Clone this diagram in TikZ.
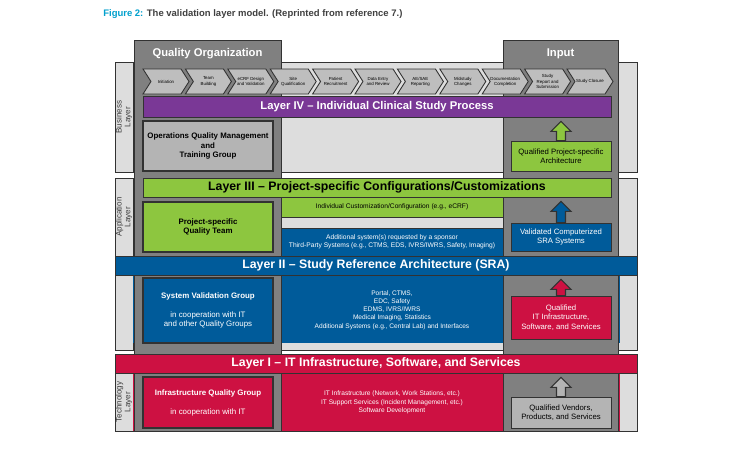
\documentclass[tikz,border=0pt]{standalone}
\usepackage{fontspec}
\setmainfont{Liberation Sans}
\usepackage{xcolor}
\usetikzlibrary{shapes.symbols,calc}

\definecolor{bandgray}{RGB}{221,221,221}
\definecolor{colgray}{RGB}{128,128,128}
\definecolor{boxgray}{RGB}{180,180,180}
\definecolor{chevgray}{RGB}{190,190,190}
\definecolor{edge}{RGB}{50,50,50}
\definecolor{lpurple}{RGB}{122,56,150}
\definecolor{lgreen}{RGB}{141,198,63}
\definecolor{lblue}{RGB}{0,91,154}
\definecolor{lred}{RGB}{205,17,66}
\definecolor{figcyan}{RGB}{0,160,205}
\definecolor{titlegray}{RGB}{64,64,64}

\tikzset{
  wh/.style 2 args={minimum width=#1*0.02cm, minimum height=#2*0.02cm},
  layerbar/.style={draw=edge, line width=0.4pt, inner sep=0pt, font=\fontsize{7}{8}\selectfont\bfseries},
  colhead/.style={inner sep=0pt, text=white, font=\fontsize{6.4}{7}\selectfont\bfseries},
  groupbox/.style={draw=edge, line width=0.7pt, inner sep=0pt, align=center, font=\fontsize{4.5}{5.3}\selectfont},
  boldgroup/.style={groupbox, font=\fontsize{4.5}{5.3}\selectfont\bfseries},
  outbox/.style={draw=edge, line width=0.5pt, inner sep=0pt, align=center, font=\fontsize{4.4}{5.4}\selectfont},
  smallbox/.style={outbox, font=\fontsize{3.8}{4.8}\selectfont},
  midtext/.style={inner sep=0pt, align=center, text=white, font=\fontsize{3.75}{4.7}\selectfont},
  chev/.style={draw=edge, fill=chevgray, line width=0.5pt, signal, signal from=west, signal to=east,
    signal pointer angle=115, inner sep=0pt, align=center, font=\fontsize{2.5}{3}\selectfont, wh={46}{25}},
  sidestrip/.style={draw=edge, fill=bandgray, line width=0.4pt},
  sidetext/.style={rotate=90, inner sep=0pt, align=center, text=titlegray, font=\fontsize{4.6}{5}\selectfont},
  liftarrow/.style={draw=edge, line width=0.6pt, line join=miter},
}

% block arrow from a box up to a layer bar
\newcommand{\liftarr}[3]{%
  \draw[liftarrow, fill=#1]
    ($(#2.north)+(-4.5,0)$) -- ($(#2.north |- #3.south)+(-4.5,14)$)
    -- ++(-5.5,0) -- ($(#2.north |- #3.south)+(0,4)$)
    -- ($(#2.north |- #3.south)+(10,14)$) -- ++(-5.5,0)
    -- ($(#2.north)+(4.5,0)$) -- cycle;}

\begin{document}
\begin{tikzpicture}[x=0.02cm, y=-0.02cm]
    \useasboundingbox (0,0) rectangle (750,450);
    \fill[white] (0,0) rectangle (750,450);

    % Titulo
    \node[anchor=west, inner sep=0pt, text=titlegray, font=\fontsize{5.4}{6}\selectfont\bfseries] (title) at (103,14)
        {\textcolor{figcyan}{Figure 2:} The validation layer model. (Reprinted from reference 7.)};

    % Camadas
    \draw[sidestrip] (115,62) rectangle (637,172);
    \draw[sidestrip] (115,178) rectangle (637,350);
    \draw[sidestrip] (115,354) rectangle (637,431);
    \draw[sidestrip] (115,62) rectangle (133,172);
    \draw[sidestrip] (115,178) rectangle (133,256);
    \draw[sidestrip] (115,275) rectangle (133,350);
    \draw[sidestrip] (115,373) rectangle (133,431);
    \node[sidetext] (buslbl) at (124,117) {Business\\Layer};
    \node[sidetext] (applbl) at (124,217) {Application\\Layer};
    \node[sidetext] (teclbl) at (124,402) {Technology\\Layer};

    \fill[lblue] (133,275) rectangle (620,343);
    \fill[lred] (133,373) rectangle (620,431);

    % Colunas
    \draw[fill=colgray, draw=edge, line width=0.5pt] (134,40) rectangle (281,431);
    \draw[fill=colgray, draw=edge, line width=0.5pt] (503,40) rectangle (618,431);
    \node[colhead] (qorg) at (207.5,54) {Quality Organization};
    \node[colhead] (input) at (560.5,54) {Input};

    % Fases do estudo
    \node[chev] (c1) at (166,81.5) {Initiation};
    \node[chev] (c2) at (208.4,81.5) {Team\\Building};
    \node[chev] (c3) at (250.8,81.5) {eCRF Design\\and Validation};
    \node[chev] (c4) at (293.2,81.5) {Site\\Qualification};
    \node[chev] (c5) at (335.6,81.5) {Patient\\Recruitment};
    \node[chev] (c6) at (378,81.5) {Data Entry\\and Review};
    \node[chev] (c7) at (420.4,81.5) {AE/SAE\\Reporting};
    \node[chev] (c8) at (462.8,81.5) {Midstudy\\Changes};
    \node[chev] (c9) at (505.2,81.5) {Documentation\\Completion};
    \node[chev] (c10) at (547.6,81.5) {Study\\Report and\\Submission};
    \node[chev] (c11) at (590,81.5) {Study Closure};

    % Layers
    \node[layerbar, fill=lpurple, text=white, wh={468}{21}, font=\fontsize{6.4}{7}\selectfont\bfseries] (l4) at (377,106.5) {Layer IV -- Individual Clinical Study Process};
    \node[layerbar, fill=lgreen, wh={468}{19}] (l3) at (377,187.5) {Layer III -- Project-specific Configurations/Customizations};
    \node[layerbar, fill=lblue, text=white, wh={522}{19}] (l2) at (376,265.5) {Layer II -- Study Reference Architecture (SRA)};
    \node[layerbar, fill=lred, text=white, wh={522}{19}] (l1) at (376,363.5) {Layer I -- IT Infrastructure, Software, and Services};

    % Grupos de qualidade
    \node[boldgroup, fill=boxgray, wh={130}{50}] (opsq) at (208,146) {Operations Quality Management\\and\\Training Group};
    \node[boldgroup, fill=lgreen, wh={130}{50}] (pqteam) at (208,227) {Project-specific\\Quality Team};
    \node[groupbox, fill=lblue, text=white, wh={130}{65}] (sysval) at (208,310.5) {\textbf{System Validation Group}\\[5.5pt]in cooperation with IT\\and other Quality Groups};
    \node[groupbox, fill=lred, text=white, wh={130}{51}] (infraq) at (208,402.5) {\textbf{Infrastructure Quality Group}\\[5.5pt]in cooperation with IT};

    % Sistemas
    \node[smallbox, fill=lgreen, wh={222}{20}] (custom) at (392,207) {Individual Customization/Configuration (e.g., eCRF)};
    \node[smallbox, fill=lblue, text=white, wh={222}{28}] (addsys) at (392,242) {Additional system(s) requested by a sponsor\\Third-Party Systems (e.g., CTMS, EDS, IVRS/IWRS, Safety, Imaging)};
    \node[midtext] (sratext) at (392,310) {Portal, CTMS,\\EDC, Safety\\EDMS, IVRS/IWRS\\Medical Imaging, Statistics\\Additional Systems (e.g., Central Lab) and Interfaces};
    \node[midtext] (ittext) at (392,402.5) {IT Infrastructure (Network, Work Stations, etc.)\\IT Support Services (Incident Management, etc.)\\Software Development};

    % Entradas
    \node[outbox, fill=lgreen, wh={100}{30}] (qarch) at (561,156) {Qualified Project-specific\\Architecture};
    \node[outbox, fill=lblue, text=white, wh={100}{28}] (valsra) at (561,237) {Validated Computerized\\SRA Systems};
    \node[outbox, fill=lred, text=white, wh={100}{43}] (qinfra) at (561,317.5) {Qualified\\IT Infrastructure,\\Software, and Services};
    \node[outbox, fill=boxgray, wh={100}{31}] (qvend) at (561,412.5) {Qualified Vendors,\\Products, and Services};

    % Setas
    \liftarr{lgreen}{qarch}{l4}
    \liftarr{lblue}{valsra}{l3}
    \liftarr{lred}{qinfra}{l2}
    \liftarr{boxgray}{qvend}{l1}
\end{tikzpicture}
\end{document}
